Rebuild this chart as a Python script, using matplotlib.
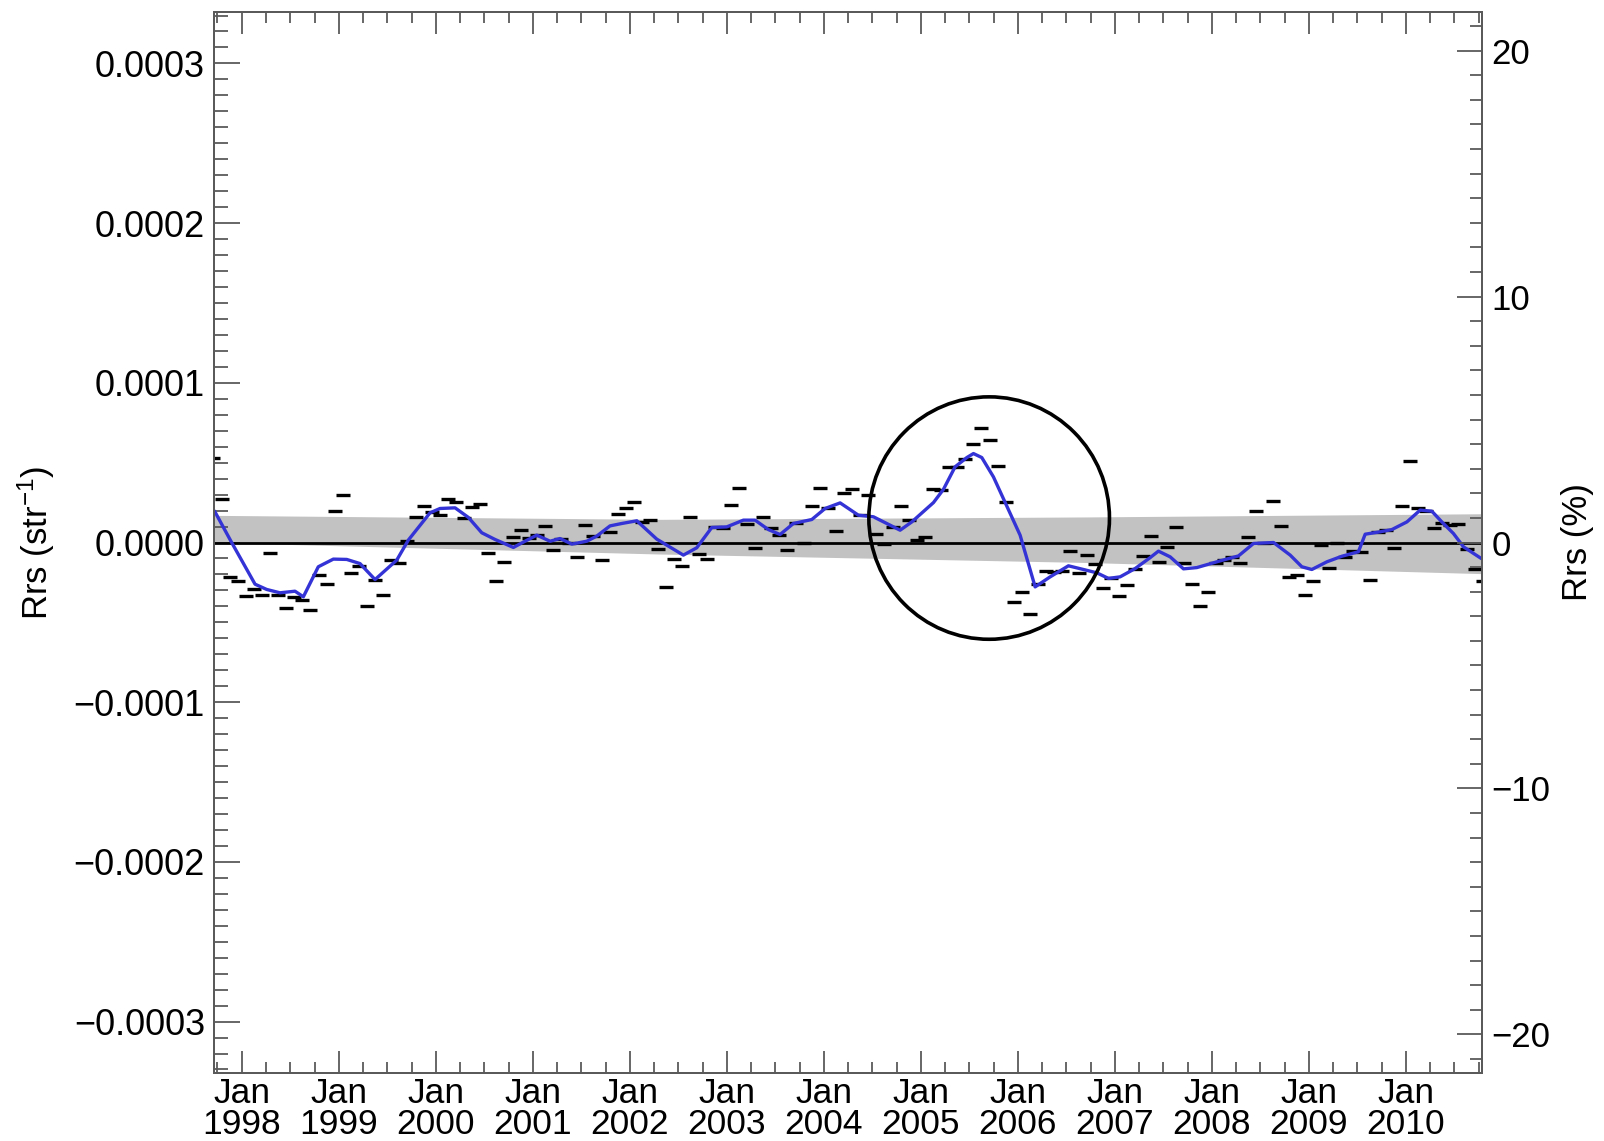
import matplotlib
matplotlib.use("Agg")
import matplotlib.pyplot as plt
from matplotlib.patches import Ellipse
from matplotlib.ticker import FuncFormatter, MultipleLocator
import numpy as np
import pandas as pd

plt.rcParams["font.family"] = ["Liberation Sans", "DejaVu Sans"]
plt.rcParams["mathtext.fontset"] = "custom"
plt.rcParams["mathtext.rm"] = "Liberation Sans"
plt.rcParams["mathtext.it"] = "Liberation Sans:italic"
plt.rcParams["mathtext.bf"] = "Liberation Sans:bold"

# anomalies are read in units of 1e-5 str^-1
UNIT = 1e-5
REFERENCE_RRS = 1.54e-3  # Rrs that corresponds to 100 % on the right axis

MONTHS = pd.period_range("1997-09", "2010-10", freq="M")
MONTHLY_ANOMALY = [
    5.3, 2.7, -2.15, -2.4, -3.36, -2.9, -3.26, -0.67, -3.26, -4.1,
    -3.4, -3.6, -4.2, -2.05, -2.6, 2.0, 3.0, -1.94, -1.48, -4.0,
    -2.36, -3.26, -1.1, -1.27, 0.1, 1.6, 2.3, 1.9, 1.75, 2.7,
    2.55, 1.55, 2.23, 2.4, -0.65, -2.42, -1.25, 0.37, 0.8, 0.3,
    0.45, 1.04, -0.44, 0.2, -0.06, -0.9, 1.09, 0.4, -1.1, 0.67,
    1.77, 2.13, 2.55, 1.3, 1.4, -0.38, -2.78, -1.06, -1.48, 1.57,
    -0.69, -1.06, 0.98, 0.88, 2.32, 3.44, 1.15, -0.33, 1.6, 0.9,
    0.5, -0.44, 1.19, -0.06, 2.27, 3.44, 2.13, 0.73, 3.11, 3.32,
    1.71, 2.96, 0.52, -0.1, 0.98, 2.3, 1.4, 0.15, 0.35, 3.32,
    3.3, 4.7, 4.7, 5.2, 6.14, 7.14, 6.41, 4.78, 2.55, -3.72,
    -3.13, -4.45, -2.6, -1.8, -1.85, -1.8, -0.52, -1.94, -0.79, -1.36,
    -2.82, -2.25, -3.36, -2.67, -1.63, -0.86, 0.4, -1.21, -0.31, 0.94,
    -1.27, -2.57, -3.97, -3.09, -1.3, -1.1, -0.9, -1.27, 0.35, 1.96,
    0.0, 2.59, 1.02, -2.15, -2.05, -3.3, -2.42, -0.13, -1.57, -0.06,
    -0.9, -0.54, -0.6, -2.32, 0.67, 0.77, -0.35, 2.28, 5.11, 2.13,
    1.98, 0.88, 1.23, 1.09, 1.15, -0.38, -1.63, -2.4,
]

SMOOTH_YEARS = [
    1997.724, 1997.896, 1998.137, 1998.257, 1998.394, 1998.549, 1998.635, 1998.789,
    1998.944, 1999.082, 1999.219, 1999.374, 1999.598, 1999.717, 1999.941, 2000.044,
    2000.199, 2000.336, 2000.474, 2000.611, 2000.800, 2000.920, 2001.041, 2001.178,
    2001.281, 2001.402, 2001.556, 2001.659, 2001.796, 2001.917, 2002.072, 2002.278,
    2002.552, 2002.690, 2002.845, 2003.000, 2003.171, 2003.291, 2003.428, 2003.549,
    2003.686, 2003.876, 2004.013, 2004.168, 2004.356, 2004.511, 2004.786, 2004.907,
    2005.130, 2005.232, 2005.353, 2005.474, 2005.542, 2005.628, 2005.748, 2006.023,
    2006.178, 2006.333, 2006.521, 2006.676, 2006.814, 2006.934, 2007.054, 2007.209,
    2007.363, 2007.449, 2007.570, 2007.707, 2007.845, 2008.085, 2008.274, 2008.429,
    2008.635, 2008.807, 2008.927, 2009.030, 2009.185, 2009.340, 2009.510, 2009.580,
    2009.735, 2009.855, 2010.010, 2010.147, 2010.267, 2010.370, 2010.490, 2010.593,
    2010.766,
]
SMOOTH_ANOMALY = [
    1.92, 0.0, -2.61, -2.94, -3.15, -3.05, -3.4, -1.52,
    -1.04, -1.06, -1.32, -2.32, -1.1, 0.15, 1.86, 2.13,
    2.17, 1.57, 0.61, 0.19, -0.31, 0.08, 0.46, 0.08,
    0.25, -0.1, 0.08, 0.4, 1.04, 1.19, 1.36, 0.21,
    -0.79, -0.33, 0.94, 0.98, 1.4, 1.4, 0.81, 0.5,
    1.19, 1.44, 2.13, 2.48, 1.71, 1.61, 0.77, 1.29,
    2.5, 3.32, 4.74, 5.32, 5.57, 5.32, 4.11, 0.46,
    -2.78, -2.15, -1.46, -1.69, -1.9, -2.25, -2.15, -1.63,
    -0.95, -0.54, -0.9, -1.65, -1.57, -1.15, -0.84, -0.06,
    0.0, -0.79, -1.52, -1.69, -1.21, -0.86, -0.58, 0.52,
    0.67, 0.81, 1.29, 2.03, 1.96, 1.29, 0.56, -0.27,
    -0.96,
]

BAND_YEARS = [1997.714, 2002.3, 2006.7, 2010.784]
BAND_UPPER = [1.7, 1.45, 1.6, 1.8]
BAND_LOWER = [0.0, -0.72, -1.25, -1.95]

YEAR_TICKS = list(range(1998, 2011))
RRS_TICKS = [-3e-4, -2e-4, -1e-4, 0.0, 1e-4, 2e-4, 3e-4]
PERCENT_TICKS = [-20, -10, 0, 10, 20]

X_RANGE = (1997.714, 2010.784)
Y_LIMIT = 3.322e-4

# highlighted period (circle drawn in the original figure)
HIGHLIGHT_YEAR = 2005.704
HIGHLIGHT_VALUE = 1.53e-5
HIGHLIGHT_WIDTH = 2.48
HIGHLIGHT_HEIGHT = 1.518e-4

SPINE_COLOR = "#5a5a5a"


def rrs_label(v, _pos):
    text = f"{v:.4f}"
    if text.startswith("-0.0000"):
        text = "0.0000"
    return text.replace("-", "\u2212")


def main() -> None:
    month_years = np.array([p.year + (p.month - 0.5) / 12 for p in MONTHS])
    anomaly = np.array(MONTHLY_ANOMALY) * UNIT
    smooth_x = np.array(SMOOTH_YEARS)
    smooth_y = np.array(SMOOTH_ANOMALY) * UNIT
    band_x = np.array(BAND_YEARS)

    fig = plt.figure(figsize=(16.04, 11.41), dpi=100)
    ax = fig.add_axes([214 / 1604, 1 - 1073 / 1141, 1268 / 1604, 1061 / 1141])

    ax.fill_between(band_x, np.array(BAND_LOWER) * UNIT, np.array(BAND_UPPER) * UNIT,
                    color="#c2c2c2", lw=0, zorder=1)
    ax.axhline(0, color="black", lw=2.0, zorder=2)
    ax.plot(month_years, anomaly, ls="none", marker="_", ms=9.5, mew=2.4,
            color="black", zorder=3)
    ax.plot(smooth_x, smooth_y, color="#3434d6", lw=2.4, zorder=4)

    ax.add_patch(Ellipse((HIGHLIGHT_YEAR, HIGHLIGHT_VALUE), HIGHLIGHT_WIDTH, HIGHLIGHT_HEIGHT,
                         fill=False, ec="black", lw=2.6, zorder=5))

    ax.set_xlim(*X_RANGE)
    ax.set_ylim(-Y_LIMIT, Y_LIMIT)

    ax.set_xticks(YEAR_TICKS)
    ax.set_xticklabels([f"Jan\n{y}" for y in YEAR_TICKS], fontsize=25.5, linespacing=0.93)
    ax.xaxis.set_minor_locator(MultipleLocator(0.25))
    ax.set_yticks(RRS_TICKS)
    ax.yaxis.set_major_formatter(FuncFormatter(rrs_label))
    ax.yaxis.set_minor_locator(MultipleLocator(1e-5))

    ax.tick_params(axis="x", which="major", direction="in", length=16, width=1.3,
                   top=True, color=SPINE_COLOR, pad=3)
    ax.tick_params(axis="x", which="minor", direction="in", length=8, width=1.3,
                   top=True, color=SPINE_COLOR)
    ax.tick_params(axis="y", which="major", direction="in", length=19, width=1.3,
                   right=False, color=SPINE_COLOR, labelsize=26, pad=6.5)
    ax.tick_params(axis="y", which="minor", direction="in", length=10, width=1.3,
                   right=False, color=SPINE_COLOR)
    for spine in ax.spines.values():
        spine.set_color(SPINE_COLOR)
        spine.set_linewidth(1.4)

    ax.set_ylabel("Rrs (str$^{-1}$)", fontsize=25, va="center")
    ax.yaxis.set_label_coords(-0.140, 0.5)

    ax2 = ax.twinx()
    ax2.set_ylim(-Y_LIMIT / REFERENCE_RRS * 100, Y_LIMIT / REFERENCE_RRS * 100)
    ax2.set_yticks(PERCENT_TICKS)
    ax2.yaxis.set_minor_locator(MultipleLocator(1))
    ax2.yaxis.set_major_formatter(FuncFormatter(lambda v, _p: f"{v:g}".replace("-", "\u2212")))
    ax2.tick_params(axis="y", which="major", direction="in", length=18, width=1.3,
                    color=SPINE_COLOR, labelsize=25, pad=7)
    ax2.tick_params(axis="y", which="minor", direction="in", length=9, width=1.3,
                    color=SPINE_COLOR)
    for spine in ax2.spines.values():
        spine.set_color(SPINE_COLOR)
        spine.set_linewidth(1.4)
    ax2.set_ylabel("Rrs (%)", fontsize=25, va="center")
    ax2.yaxis.set_label_coords(1.075, 0.5)

    fig.savefig("out.png", dpi=100)
    plt.close(fig)


if __name__ == "__main__":
    main()
